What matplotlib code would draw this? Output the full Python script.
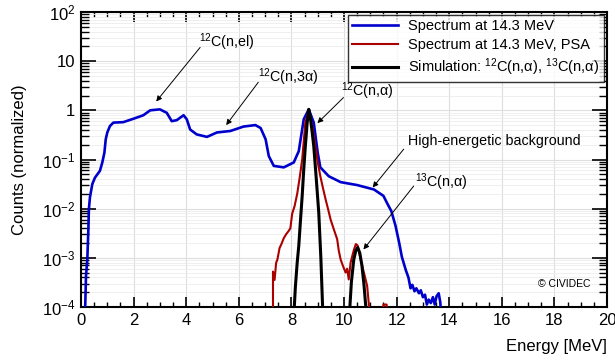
import numpy as np
import matplotlib
matplotlib.use("Agg")
import matplotlib.pyplot as plt
from matplotlib.ticker import FixedLocator, FixedFormatter, MultipleLocator, LogLocator, NullFormatter

plt.rcParams['font.family'] = ['Liberation Sans', 'DejaVu Sans']
plt.rcParams['mathtext.fontset'] = 'custom'
plt.rcParams['mathtext.rm'] = 'Liberation Sans'
plt.rcParams['mathtext.it'] = 'Liberation Sans:italic'

# measured spectrum at 14.3 MeV (energy in MeV, log10 of normalized counts)
blue_e = [0.15, 0.19, 0.24, 0.28, 0.30, 0.34, 0.43, 0.53, 0.72, 0.81, 0.89, 0.94,
          1.00, 1.10, 1.23, 1.61, 2.00, 2.37, 2.63, 3.00, 3.26, 3.45, 3.64, 3.90,
          4.02, 4.15, 4.40, 4.79, 5.17, 5.68, 6.18, 6.63, 6.83, 7.02, 7.14, 7.33,
          7.71, 8.09, 8.28, 8.47, 8.66, 8.85, 9.00, 9.10, 9.42, 9.87, 10.50, 11.14,
          11.50, 11.65, 11.80, 11.96, 12.10, 12.20, 12.35, 12.45, 12.53, 12.60, 12.68,
          12.75, 12.85, 12.92, 13.00, 13.08, 13.15, 13.22, 13.30, 13.38, 13.45, 13.52,
          13.60, 13.66, 13.70]
blue_log = [-4.2, -3.37, -3.03, -2.42, -2.01, -1.77, -1.50, -1.37, -1.23, -1.06, -0.86, -0.59,
            -0.45, -0.32, -0.25, -0.24, -0.17, -0.10, 0.00, 0.02, -0.05, -0.22, -0.20, -0.10,
            -0.18, -0.39, -0.49, -0.54, -0.45, -0.42, -0.33, -0.30, -0.36, -0.59, -0.93, -1.13,
            -1.16, -1.06, -0.83, -0.18, 0.02, -0.25, -0.86, -1.16, -1.34, -1.46, -1.52, -1.61,
            -1.74, -1.90, -2.05, -2.35, -2.70, -2.98, -3.25, -3.40, -3.62, -3.55, -3.68,
            -3.62, -3.72, -3.66, -3.80, -3.75, -3.95, -3.85, -3.92, -3.80, -3.95, -3.78,
            -3.72, -3.90, -4.2]

# spectrum after pulse shape analysis
red_e = [7.30, 7.30, 7.36, 7.42, 7.47, 7.55, 7.62, 7.71, 7.80, 7.90, 7.96, 8.03, 8.12,
         8.22, 8.32, 8.41, 8.53, 8.66, 8.80, 8.90, 9.00, 9.10, 9.20, 9.30, 9.40, 9.49,
         9.60, 9.74, 9.80, 9.87, 9.95, 10.06, 10.12, 10.18, 10.25, 10.32, 10.37, 10.45,
         10.52, 10.60, 10.69, 10.78, 10.88, 10.94, 10.98, 11.48, 11.50, 11.62, 11.64]
red_log = [-4.2, -3.28, -3.45, -3.10, -3.03, -2.80, -2.72, -2.60, -2.52, -2.45, -2.40, -2.10, -1.95,
           -1.70, -1.35, -1.00, -0.25, 0.00, -0.35, -0.70, -1.05, -1.34, -1.58, -1.81, -2.02, -2.22,
           -2.40, -2.62, -2.85, -3.03, -3.15, -3.30, -3.22, -3.44, -3.10, -2.95, -2.85, -2.72,
           -2.75, -2.95, -3.16, -3.35, -3.57, -3.92, -4.2, -4.2, -3.95, -3.95, -4.2]

# simulation, 12C(n,a) and 13C(n,a) peaks
sim12_e = [8.09, 8.15, 8.22, 8.28, 8.35, 8.41, 8.47, 8.53, 8.60, 8.66, 8.72, 8.78, 8.85,
           8.94, 9.04, 9.12, 9.20]
sim12_log = [-4.2, -3.6, -3.1, -2.76, -2.2, -1.74, -1.20, -0.73, -0.25, 0.02, -0.15, -0.40, -0.73,
             -1.35, -2.08, -3.0, -4.2]
sim13_e = [10.20, 10.28, 10.37, 10.45, 10.52, 10.60, 10.68, 10.76, 10.86]
sim13_log = [-4.2, -3.50, -3.04, -2.85, -2.79, -2.90, -3.15, -3.55, -4.2]

ytick_vals = [1e-4, 1e-3, 1e-2, 1e-1, 1, 10, 100]
ytick_labels = [r"$10^{-4}$", r"$10^{-3}$", r"$10^{-2}$", r"$10^{-1}$", "1", "10", r"$10^{2}$"]

fig = plt.figure(figsize=(6.15, 3.63), dpi=100)
ax = fig.add_axes([81/615, 1-307/363, (607-81)/615, (307-12)/363])

blue = '#0000cc'
red = '#aa0000'
ax.plot(blue_e, 10**np.array(blue_log), color=blue, lw=1.9, label="Spectrum at 14.3 MeV", zorder=3)
ax.plot(red_e, 10**np.array(red_log), color=red, lw=1.5, label="Spectrum at 14.3 MeV, PSA", zorder=4)
ax.plot(sim12_e, 10**np.array(sim12_log), color='black', lw=2.2,
        label=r"Simulation: $^{12}$C(n,α), $^{13}$C(n,α)", zorder=5)
ax.plot(sim13_e, 10**np.array(sim13_log), color='black', lw=2.2, zorder=5)

ax.set_yscale('log')
ax.set_xlim(0, 20)
ax.set_ylim(1e-4, 1e2)

ax.xaxis.set_major_locator(MultipleLocator(2))
ax.xaxis.set_minor_locator(MultipleLocator(0.5))
ax.yaxis.set_major_locator(FixedLocator(ytick_vals))
ax.yaxis.set_major_formatter(FixedFormatter(ytick_labels))
ax.yaxis.set_minor_locator(LogLocator(base=10, subs=np.arange(2, 10)))
ax.yaxis.set_minor_formatter(NullFormatter())

ax.tick_params(axis='both', which='both', direction='in', top=True, right=True, labelsize=12)
ax.tick_params(axis='y', which='major', length=11, width=1.2, pad=4)
ax.tick_params(axis='y', which='minor', length=6, width=1.0)
ax.tick_params(axis='x', which='major', length=7, width=1.2, pad=4)
ax.tick_params(axis='x', which='minor', length=3.5, width=1.0)
for s in ax.spines.values():
    s.set_linewidth(1.5)

ax.grid(True, which='major', color='#dedede', lw=0.8)
ax.grid(True, which='minor', axis='y', color='#ececec', lw=0.6)
ax.set_axisbelow(True)

ax.set_ylabel("Counts (normalized)", fontsize=12)
ax.yaxis.set_label_coords(-0.103, 0.5)
ax.set_xlabel("Energy [MeV]", fontsize=12, ha='right')
ax.xaxis.set_label_coords(1.0, -0.108)

leg = ax.legend(loc='upper right', bbox_to_anchor=(0.994, 0.99), borderaxespad=0,
                fontsize=10.5, frameon=True, fancybox=False, handlelength=3.15,
                labelspacing=0.3, borderpad=0.3, handletextpad=0.7)
leg.get_frame().set_edgecolor('black')
leg.get_frame().set_linewidth(1.0)

arrow = dict(arrowstyle='-|>', color='black', lw=0.7, mutation_scale=8, shrinkA=0, shrinkB=0)
# (text, text position, arrow start, arrow end)
notes = [
    (r"$^{12}$C(n,el)", (4.50, 10**1.38), (4.53, 10**1.28), (2.86, 10**0.18)),
    (r"$^{12}$C(n,3α)", (6.74, 10**0.67), (6.74, 10**0.57), (5.52, 10**-0.30)),
    (r"$^{12}$C(n,α)", (9.87, 10**0.39), (9.98, 10**0.26), (8.99, 10**-0.26)),
    ("High-energetic background", (12.42, 10**-0.63), (12.27, 10**-0.79), (11.09, 10**-1.57)),
    (r"$^{13}$C(n,α)", (12.69, 10**-1.46), (12.65, 10**-1.54), (10.74, 10**-2.83)),
]
for txt, tpos, a0, a1 in notes:
    ax.text(tpos[0], tpos[1], txt, fontsize=10.3, ha='left', va='center', zorder=6)
    ax.annotate('', xy=a1, xytext=a0, arrowprops=arrow, zorder=6)

ax.text(17.37, 10**-3.54, "© CIVIDEC", fontsize=7.5, ha='left', va='center')

fig.savefig("out.png", dpi=100)
